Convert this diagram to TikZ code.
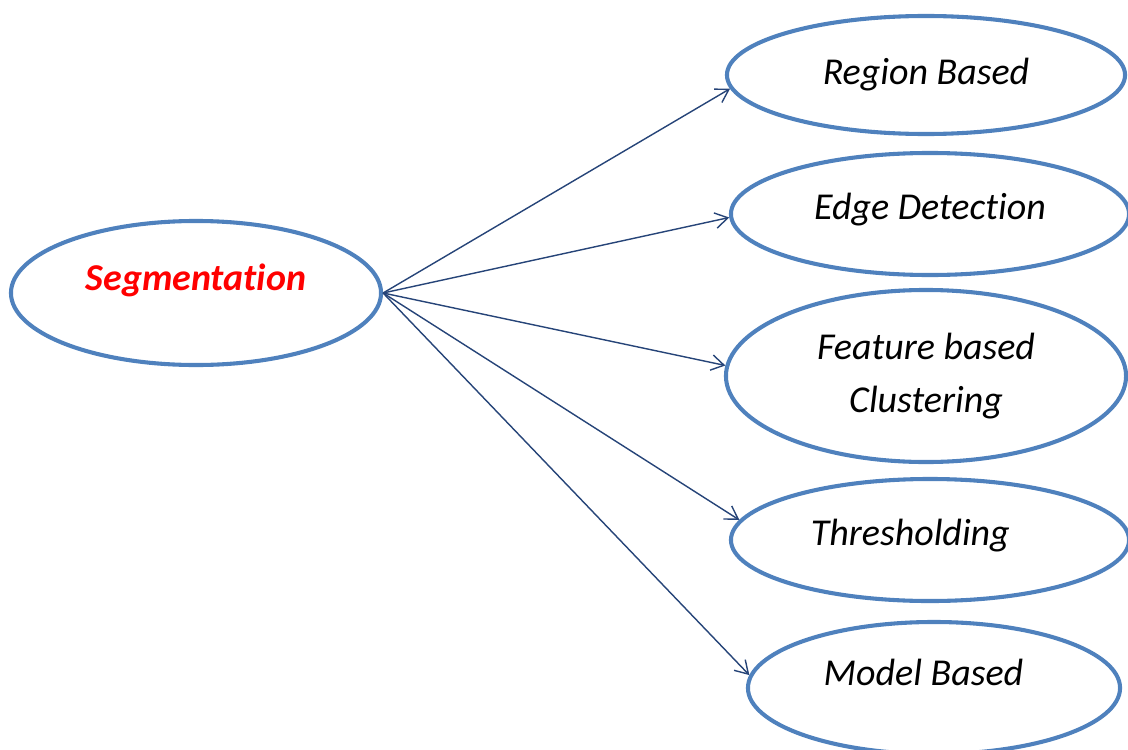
\documentclass[tikz,border=0pt]{standalone}
\usepackage{fontspec}
\setmainfont{Carlito}[Ligatures=NoCommon]
\usetikzlibrary{shapes.geometric,arrows.meta}
\definecolor{ringblue}{RGB}{79,129,189}
\definecolor{linkblue}{RGB}{38,68,120}
\tikzset{
    oval/.style={ellipse, draw=ringblue, line width=2.9pt, inner sep=0pt,
        align=center, font=\fontsize{27}{38}\selectfont\itshape},
    lift/.style={text depth=#1},
    link/.style={draw=linkblue, line width=1pt, -{Straight Barb[length=9pt,width=11pt]}}
}
\begin{document}
\begin{tikzpicture}[x=0.025cm, y=-0.025cm]
            \useasboundingbox (0,0) rectangle (1128,749);
            \node[oval, lift=22pt, minimum width=9.25cm, minimum height=3.6cm,
                font=\fontsize{27}{38}\selectfont\bfseries\itshape, text=red]
                (seg) at (196,293) {Segmentation};
            \node[oval, minimum width=9.95cm, minimum height=2.95cm] (region) at (926,75) {Region Based};
            \node[oval, lift=11pt, minimum width=9.95cm, minimum height=3.05cm] (edge) at (930,214) {Edge Detection};
            \node[oval, minimum width=10cm, minimum height=4.3cm] (feature) at (926,376) {Feature based\\Clustering};
            \node[oval, lift=11pt, minimum width=9.95cm, minimum height=3.05cm] (thresh) at (930,540) {Thresholding\hspace*{28pt}};
            \node[oval, lift=22pt, minimum width=9.3cm, minimum height=3.3cm] (model) at (934,688) {Model Based\hspace*{15pt}};
            \draw[link] (seg.east) -- (region.184);
            \draw[link] (seg.east) -- (edge.181);
            \draw[link] (seg.east) -- (feature.177);
            \draw[link] (seg.east) -- (thresh.174);
            \draw[link] (seg.east) -- (model.176);
        \end{tikzpicture}
\end{document}
